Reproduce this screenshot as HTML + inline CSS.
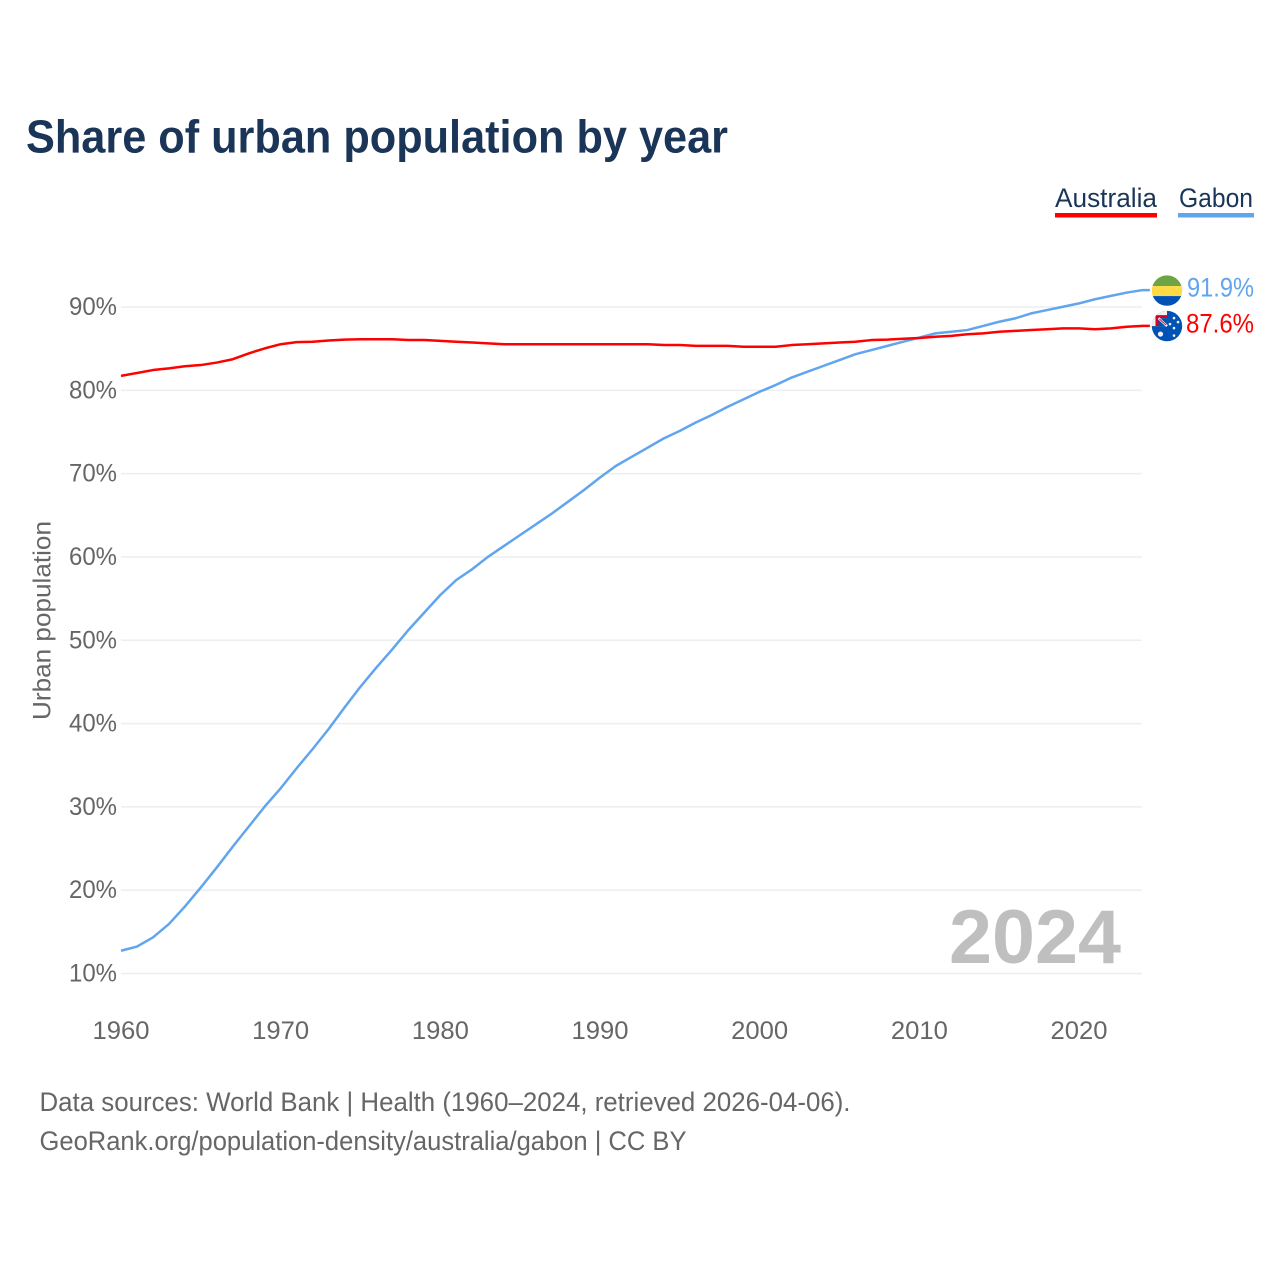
<!DOCTYPE html>
<html lang="en">
<head>
<meta charset="utf-8">
<title>Share of urban population by year</title>
<style>
html,body{margin:0;padding:0;background:#fff;width:1280px;height:1280px;overflow:hidden}
svg{display:block}
text{font-family:"Liberation Sans",sans-serif}
</style>
</head>
<body>
<svg id="chart" xmlns="http://www.w3.org/2000/svg" width="1280" height="1280" viewBox="0 0 1280 1280">
  <defs>
    <clipPath id="clip-gabon"><circle cx="0" cy="0" r="15.2"/></clipPath>
    <clipPath id="clip-aus"><circle cx="0" cy="0" r="15.2"/></clipPath>
  </defs>
  <rect x="0" y="0" width="1280" height="1280" fill="#fff"/>
  <text x="26" y="152.5" font-size="46" font-weight="700" fill="#1a3557" textLength="702" lengthAdjust="spacingAndGlyphs">Share of urban population by year</text>

  <g>
    <g>
      <text x="1055" y="207" font-size="27" fill="#1a3557" textLength="102" lengthAdjust="spacingAndGlyphs">Australia</text>
      <rect x="1055" y="213" width="102" height="4.5" fill="#ff0000"/>
    </g>
    <g>
      <text x="1179" y="207" font-size="27" fill="#1a3557" textLength="74" lengthAdjust="spacingAndGlyphs">Gabon</text>
      <rect x="1178" y="213" width="76" height="4.5" fill="#60a5ee"/>
    </g>
  </g>

  <g id="grid"></g>
  <g id="y-ticks"></g>
  <g id="x-ticks"></g>
  <text transform="translate(50.5,720) rotate(-90)" font-size="25" fill="#666666" textLength="199" lengthAdjust="spacingAndGlyphs">Urban population</text>

  <text x="1121" y="963" text-anchor="end" font-size="76" font-weight="700" fill="#bfbfbf" textLength="172" lengthAdjust="spacingAndGlyphs">2024</text>

  <g id="series"></g>

  <g id="flag-gabon">
    <g clip-path="url(#clip-gabon)">
      <rect x="-16" y="-16" width="32" height="11.5" fill="#6da544"/>
      <rect x="-16" y="-4.5" width="32" height="10" fill="#ffda44"/>
      <rect x="-16" y="5.5" width="32" height="11" fill="#0052b4"/>
    </g>
  </g>
  <g id="flag-australia">
    <g clip-path="url(#clip-aus)">
      <rect x="-16" y="-16" width="32" height="32" fill="#0052b4"/>
      <rect x="-16" y="-16" width="16" height="16" fill="#f0f0f0"/>
      <path d="M-11.5 0 V-11 H0 V-8 H-8.5 V0 Z" fill="#d80027"/>
      <rect x="-8.5" y="-8" width="8.5" height="8" fill="#0052b4"/>
      <path d="M-8.5 -8 L0 0" stroke="#f0f0f0" stroke-width="2.4"/>
      <path d="M-7.5 -7 L-1 -1" stroke="#d80027" stroke-width="0.9"/>
      <circle cx="-6.5" cy="8" r="2.6" fill="#f0f0f0"/>
      <circle cx="7" cy="-8" r="1.3" fill="#f0f0f0"/>
      <circle cx="3" cy="-2" r="1.3" fill="#f0f0f0"/>
      <circle cx="11" cy="-4" r="1.3" fill="#f0f0f0"/>
      <circle cx="7" cy="2" r="1.3" fill="#f0f0f0"/>
      <circle cx="7" cy="9.5" r="1.3" fill="#f0f0f0"/>
    </g>
  </g>
  <text id="value-gabon" x="1187" font-size="27" fill="#60a5ee" textLength="67" lengthAdjust="spacingAndGlyphs"></text>
  <text id="value-australia" x="1186" font-size="27" fill="#ff0000" textLength="68" lengthAdjust="spacingAndGlyphs"></text>

  <g>
    <text x="39.5" y="1111" font-size="27" fill="#666666" textLength="811" lengthAdjust="spacingAndGlyphs">Data sources: World Bank | Health (1960–2024, retrieved 2026-04-06).</text>
    <text x="39.5" y="1150" font-size="27" fill="#666666" textLength="647" lengthAdjust="spacingAndGlyphs">GeoRank.org/population-density/australia/gabon | CC BY</text>
  </g>
</svg>
<script>
const years = [1960,1961,1962,1963,1964,1965,1966,1967,1968,1969,1970,1971,1972,1973,1974,1975,1976,1977,1978,1979,1980,1981,1982,1983,1984,1985,1986,1987,1988,1989,1990,1991,1992,1993,1994,1995,1996,1997,1998,1999,2000,2001,2002,2003,2004,2005,2006,2007,2008,2009,2010,2011,2012,2013,2014,2015,2016,2017,2018,2019,2020,2021,2022,2023,2024];
const australia = [81.6,81.95,82.3,82.5,82.75,82.9,83.2,83.6,84.3,84.9,85.4,85.65,85.7,85.85,85.95,86,86,86,85.9,85.9,85.8,85.7,85.6,85.5,85.4,85.4,85.4,85.4,85.4,85.4,85.4,85.4,85.4,85.4,85.3,85.3,85.2,85.2,85.2,85.1,85.1,85.1,85.3,85.4,85.5,85.6,85.7,85.9,85.95,86.05,86.15,86.3,86.4,86.6,86.7,86.9,87,87.1,87.2,87.3,87.3,87.2,87.3,87.5,87.6];
const gabon = [12.6,13.1,14.2,15.8,17.9,20.2,22.6,25.1,27.5,29.9,32.1,34.5,36.8,39.2,41.8,44.3,46.6,48.8,51.1,53.2,55.3,57.1,58.4,59.9,61.2,62.5,63.8,65.1,66.5,67.9,69.4,70.8,71.9,73,74.1,75,76,76.9,77.9,78.8,79.7,80.5,81.4,82.1,82.8,83.5,84.2,84.7,85.2,85.7,86.2,86.7,86.9,87.1,87.6,88.1,88.5,89.1,89.5,89.9,90.3,90.8,91.2,91.6,91.9];
const yTicks = [10,20,30,40,50,60,70,80,90];
const xTicks = [1960,1970,1980,1990,2000,2010,2020];

const SVG_NS = 'http://www.w3.org/2000/svg';
function x(year){ return 121 + (year - 1960) * (1079 - 121) / 60; }
function y(value){ return 973.5 - (value - 10) * (973.5 - 307) / 80; }
function seriesY(value){ return y(value) - 1.1; }
function linePath(values){
  return values.map(function(v, i){ return (i ? 'L' : 'M') + x(years[i]).toFixed(2) + ' ' + seriesY(v).toFixed(2); }).join(' ');
}

const grid = document.getElementById('grid');
const yTickGroup = document.getElementById('y-ticks');
yTicks.forEach(function(t){
  const ln = document.createElementNS(SVG_NS, 'line');
  
  
  ln.setAttribute('x1', x(1960));
  ln.setAttribute('x2', x(2024) - 1);
  ln.setAttribute('y1', y(t));
  ln.setAttribute('y2', y(t));
  ln.setAttribute('stroke', '#eeeeee');
  ln.setAttribute('stroke-width', '1.5');
  grid.appendChild(ln);
  const lb = document.createElementNS(SVG_NS, 'text');
  
  
  lb.setAttribute('x', 69);
  lb.setAttribute('y', y(t) + 8);
  lb.setAttribute('font-size', '25');
  lb.setAttribute('fill', '#666666');
  lb.setAttribute('textLength', '48');
  lb.setAttribute('lengthAdjust', 'spacingAndGlyphs');
  lb.textContent = t + '%';
  yTickGroup.appendChild(lb);
});

const xTickGroup = document.getElementById('x-ticks');
xTicks.forEach(function(t){
  const lb = document.createElementNS(SVG_NS, 'text');
  
  
  lb.setAttribute('x', x(t) - 28.5);
  lb.setAttribute('y', 1039);
  lb.setAttribute('font-size', '25');
  lb.setAttribute('fill', '#666666');
  lb.setAttribute('textLength', '57');
  lb.setAttribute('lengthAdjust', 'spacingAndGlyphs');
  lb.textContent = t;
  xTickGroup.appendChild(lb);
});

const seriesGroup = document.getElementById('series');
function drawSeries(name, values, color){
  const p = document.createElementNS(SVG_NS, 'path');
  
  
  const last = values[values.length - 1];
  p.setAttribute('d', linePath(values) + ' L' + (x(2024) + 7).toFixed(2) + ' ' + seriesY(last).toFixed(2));
  p.setAttribute('fill', 'none');
  p.setAttribute('stroke', color);
  p.setAttribute('stroke-width', '2.5');
  p.setAttribute('stroke-linejoin', 'round');
  seriesGroup.appendChild(p);
}
drawSeries('gabon', gabon, '#60a5ee');
drawSeries('australia', australia, '#ff0000');

const gabonLast = gabon[gabon.length - 1];
const ausLast = australia[australia.length - 1];
document.getElementById('flag-gabon').setAttribute('transform', 'translate(1167,' + (seriesY(gabonLast) + 0.5) + ')');
document.getElementById('flag-australia').setAttribute('transform', 'translate(1167,' + (seriesY(ausLast) + 0.2) + ')');
const vg = document.getElementById('value-gabon');
vg.setAttribute('y', seriesY(gabonLast) + 6.2);
vg.textContent = gabonLast.toFixed(1) + '%';
const va = document.getElementById('value-australia');
va.setAttribute('y', seriesY(ausLast) + 6.8);
va.textContent = ausLast.toFixed(1) + '%';
</script>
</body>
</html>
